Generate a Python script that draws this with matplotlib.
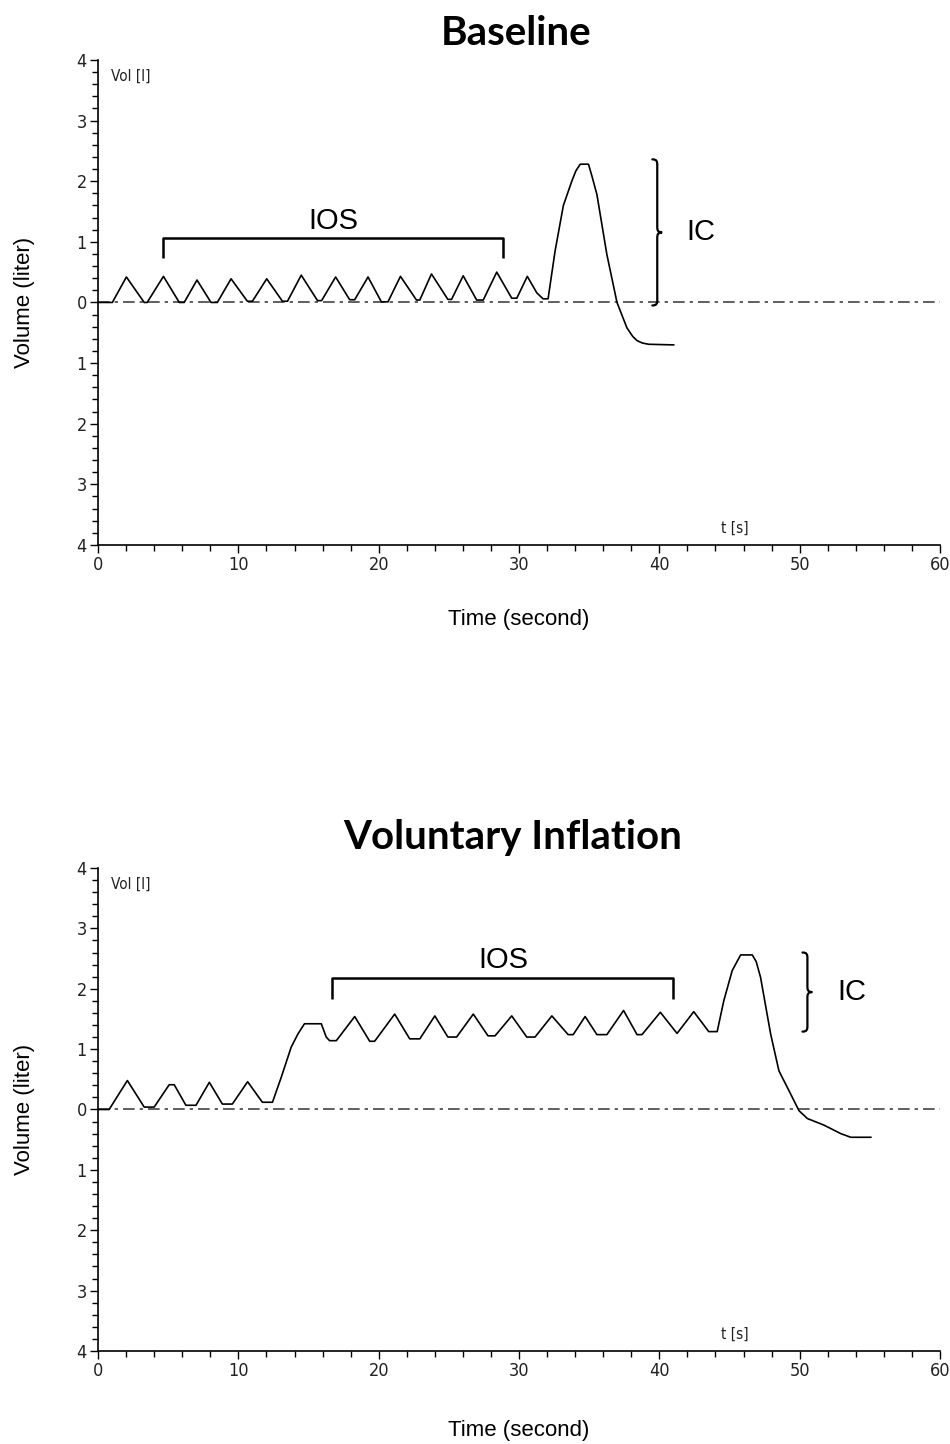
import numpy as np
import matplotlib
matplotlib.use("Agg")
import matplotlib.pyplot as plt
from matplotlib.path import Path
from matplotlib.patches import PathPatch
from matplotlib.ticker import MultipleLocator, FixedLocator

# Baseline trace: (time s, volume l) vertices
base_t = [0.0, 1.02, 2.02, 3.29, 3.5, 4.66, 5.79, 6.14, 7.05, 8.05, 8.5, 9.48,
          10.64, 11.0, 12.02, 13.14, 13.5, 14.48, 15.64, 15.93, 16.93, 17.93,
          18.29, 19.24, 20.19, 20.66, 21.55, 22.69, 22.93, 23.76, 24.93, 25.19,
          26.02, 26.98, 27.45, 28.41, 29.48, 29.84, 30.59, 31.26, 31.71, 32.07,
          32.57, 33.16, 33.76, 34.05, 34.36, 34.95, 35.2, 35.55, 36.26, 36.98,
          37.69, 38.1, 38.41, 38.8, 39.24, 41.02]
base_v = [0.0, 0.0, 0.42, 0.0, 0.0, 0.43, 0.0, 0.0, 0.37, 0.0, 0.0, 0.39,
          0.02, 0.02, 0.39, 0.02, 0.02, 0.45, 0.03, 0.03, 0.42, 0.045,
          0.045, 0.42, 0.01, 0.01, 0.43, 0.04, 0.04, 0.47, 0.05, 0.05,
          0.44, 0.04, 0.04, 0.5, 0.07, 0.07, 0.43, 0.16, 0.06, 0.06,
          0.85, 1.6, 2.0, 2.17, 2.28, 2.28, 2.08, 1.78, 0.79, 0.0,
          -0.42, -0.56, -0.63, -0.67, -0.69, -0.7]

# Voluntary inflation trace
infl_t = [0.0, 0.79, 2.09, 3.29, 4.0, 5.07, 5.43, 6.26, 6.98, 7.93, 8.86, 9.57,
          10.66, 11.71, 12.43, 13.05, 13.76, 14.24, 14.71, 15.91, 16.26, 16.5,
          16.98, 18.29, 19.36, 19.71, 21.14, 22.21, 22.93, 24.0, 24.93, 25.55,
          26.74, 27.79, 28.29, 29.48, 30.55, 31.14, 32.34, 33.5, 33.86, 34.71,
          35.55, 36.26, 37.45, 38.41, 38.76, 40.07, 41.26, 42.45, 43.52, 44.12,
          44.59, 45.19, 45.79, 46.62, 46.9, 47.21, 47.93, 48.52, 49.24, 49.95,
          50.55, 51.74, 52.93, 53.64, 55.07]
infl_v = [0.0, 0.0, 0.48, 0.04, 0.04, 0.41, 0.41, 0.07, 0.07, 0.45, 0.09, 0.09,
          0.46, 0.12, 0.12, 0.53, 1.03, 1.25, 1.42, 1.42, 1.2, 1.14,
          1.14, 1.54, 1.13, 1.13, 1.58, 1.17, 1.17, 1.55, 1.2, 1.2,
          1.58, 1.22, 1.22, 1.55, 1.2, 1.2, 1.55, 1.24, 1.24, 1.54,
          1.24, 1.24, 1.64, 1.24, 1.24, 1.61, 1.26, 1.62, 1.29, 1.29,
          1.8, 2.3, 2.56, 2.56, 2.45, 2.19, 1.25, 0.64, 0.31, -0.02,
          -0.15, -0.26, -0.4, -0.46, -0.46]

y_ticks = [-4, -3, -2, -1, 0, 1, 2, 3, 4]
y_tick_labels = [str(abs(v)) for v in y_ticks]
x_ticks = [0, 10, 20, 30, 40, 50, 60]

titles = ["Baseline", "Voluntary Inflation"]
# IOS bracket: (start, end, bar level, tip level); IC brace: (x, bottom, top)
ios_brackets = [(4.64, 28.86, 1.06, 0.73), (16.7, 41.0, 2.18, 1.83)]
ic_braces = [(39.85, -0.05, 2.36), (50.55, 1.29, 2.6)]

narrow = ["DejaVu Sans"]
sans = ["Liberation Sans", "DejaVu Sans"]


def draw_brace(ax, x, y0, y1, w=0.35, h=0.09):
    ym = (y0 + y1) / 2
    verts = [
        (x - w, y1), (x - w * 0.1, y1), (x, y1 - h * 0.4), (x, y1 - h),
        (x, ym + h),
        (x, ym + h * 0.3), (x + w * 0.2, ym), (x + w, ym),
        (x + w * 0.2, ym), (x, ym - h * 0.3), (x, ym - h),
        (x, y0 + h),
        (x, y0 + h * 0.4), (x - w * 0.1, y0), (x - w, y0),
    ]
    codes = [Path.MOVETO, Path.CURVE4, Path.CURVE4, Path.CURVE4,
             Path.LINETO,
             Path.CURVE4, Path.CURVE4, Path.CURVE4,
             Path.CURVE4, Path.CURVE4, Path.CURVE4,
             Path.LINETO,
             Path.CURVE4, Path.CURVE4, Path.CURVE4]
    ax.add_patch(PathPatch(Path(verts, codes), fill=False, lw=1.6,
                           edgecolor="black", capstyle="round"))


fig = plt.figure(figsize=(9.5, 14.44), dpi=100)
axes = [fig.add_axes([0.1032, 0.6226, 0.8863, 0.3359]),
        fig.add_axes([0.1032, 0.0644, 0.8863, 0.3345])]

series = [(base_t, base_v), (infl_t, infl_v)]
title_x = [0.497, 0.492]
title_pad = [11, 14]
xlabel_pad = [25, 29]

for i, ax in enumerate(axes):
    t, v = series[i]
    ax.axhline(0, color="#444444", lw=1.2, dashes=(7, 3, 2, 3), zorder=1)
    ax.plot(t, v, color="black", lw=1.2, zorder=2)

    ax.set_xlim(0, 60)
    ax.set_ylim(-4, 4)
    for s in ["top", "right"]:
        ax.spines[s].set_visible(False)
    ax.spines["left"].set_linewidth(1.2)
    ax.spines["bottom"].set_linewidth(1.2)

    ax.xaxis.set_major_locator(FixedLocator(x_ticks))
    ax.xaxis.set_minor_locator(MultipleLocator(2))
    ax.yaxis.set_major_locator(FixedLocator(y_ticks))
    ax.yaxis.set_minor_locator(MultipleLocator(0.2))
    ax.set_yticklabels(y_tick_labels)
    ax.tick_params(which="major", length=6, width=1.0, labelsize=13, pad=2)
    ax.tick_params(which="minor", length=4, width=1.0)
    for lab in ax.get_xticklabels() + ax.get_yticklabels():
        lab.set_family(narrow)
        lab.set_stretch("condensed")
        lab.set_color("#222222")

    ax.text(0.9, 3.85, "Vol [l]", family=narrow, stretch="condensed",
            fontsize=11, va="top", color="#222222")
    ax.text(44.4, -3.72, "t [s]", family=narrow, stretch="condensed",
            fontsize=11, va="center", color="#222222")

    ax.set_ylabel("Volume (liter)", family=sans, fontsize=16, labelpad=30)
    ax.set_xlabel("Time (second)", family=sans, fontsize=16,
                  labelpad=xlabel_pad[i])
    ax.set_title(titles[i], family=["Lato", "DejaVu Sans"], fontweight="bold",
                 fontsize=29, pad=title_pad[i], x=title_x[i])

    x0, x1, ybar, ytip = ios_brackets[i]
    ax.plot([x0, x0, x1, x1], [ytip, ybar, ybar, ytip], color="black",
            lw=1.8, solid_joinstyle="round", solid_capstyle="butt",
            clip_on=False)
    ax.text((x0 + x1) / 2, ybar + 0.06, "IOS", family=sans, fontsize=21,
            ha="center", va="bottom")

    bx, by0, by1 = ic_braces[i]
    draw_brace(ax, bx, by0, by1)
    ax.text(bx + 2.1, (by0 + by1) / 2, "IC", family=sans, fontsize=21,
            ha="left", va="center")

fig.savefig("out.png", dpi=100)
